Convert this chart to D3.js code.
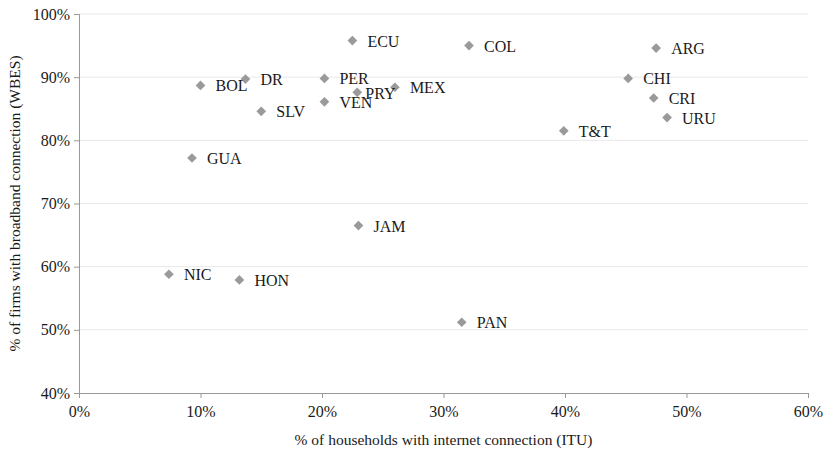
<!DOCTYPE html>
<html>
<head>
<meta charset="utf-8">
<script src="https://cdn.jsdelivr.net/npm/d3@7"></script>
<style>
  body { margin: 0; background: #fff; }
  text { font-family: "Liberation Serif", "Times New Roman", serif; fill: #1a1a1a; }
</style>
</head>
<body>
<div id="chart"></div>
<script>
// data (percent values)
var countries = ["ECU", "COL", "ARG", "BOL", "DR", "PER", "PRY", "MEX", "VEN", "SLV",
    "GUA", "CHI", "CRI", "URU", "T&T", "JAM", "NIC", "HON", "PAN"];
var households = [22.5, 32.1, 47.5, 10.0, 13.7, 20.2, 22.9, 26.0, 20.2, 15.0,
    9.3, 45.2, 47.3, 48.4, 39.9, 23.0, 7.4, 13.2, 31.5];
var firms = [95.8, 95.0, 94.6, 88.7, 89.7, 89.8, 87.6, 88.4, 86.1, 84.6,
    77.2, 89.8, 86.7, 83.6, 81.5, 66.5, 58.8, 57.9, 51.2];
var xTicks = [0, 10, 20, 30, 40, 50, 60];
var yTicks = [40, 50, 60, 70, 80, 90, 100];

var margin = { top: 14, right: 17, bottom: 63, left: 79 },
    width = 825 - margin.left - margin.right,
    height = 456 - margin.top - margin.bottom;

var svg = d3.select("#chart").append("svg")
    .attr("width", width + margin.left + margin.right)
    .attr("height", height + margin.top + margin.bottom)
    .append("g")
    .attr("transform", "translate(" + margin.left + "," + margin.top + ")");

var x = d3.scaleLinear().domain([0, 60]).range([0, width]);
var y = d3.scaleLinear().domain([40, 100]).range([height, 0]);

// gridlines
svg.append("g")
    .selectAll("line")
    .data(yTicks.slice(1))
    .enter().append("line")
    .attr("x1", 0).attr("x2", width)
    .attr("y1", function (d) { return y(d); })
    .attr("y2", function (d) { return y(d); })
    .attr("stroke", "#e8e8e8")
    .attr("stroke-width", 1);

var xAxis = svg.append("g")
    .attr("transform", "translate(0," + height + ")")
    .call(d3.axisBottom(x).tickValues(xTicks).tickSize(5).tickPadding(8)
        .tickFormat(function (d) { return d + "%"; }));

var yAxis = svg.append("g")
    .call(d3.axisLeft(y).tickValues(yTicks).tickSize(5).tickPadding(4)
        .tickFormat(function (d) { return d + "%"; }));

[xAxis, yAxis].forEach(function (a) {
    a.select(".domain").attr("stroke", "#999");
    a.selectAll(".tick line").attr("stroke", "#999");
    a.selectAll(".tick text")
        .attr("font-family", "Liberation Serif, serif")
        .style("font-size", "16px")
        .attr("fill", "#1a1a1a");
});

// points
var pts = countries.map(function (c, i) {
    return { name: c, hx: households[i], fy: firms[i] };
});

var diamond = d3.symbol().type(d3.symbolDiamond2).size(60);

svg.selectAll(".pt")
    .data(pts)
    .enter().append("path")
    .attr("class", "pt")
    .attr("d", diamond)
    .attr("transform", function (d) { return "translate(" + x(d.hx) + "," + y(d.fy) + ")"; })
    .attr("fill", "#9a9a9a");

svg.selectAll(".lbl")
    .data(pts)
    .enter().append("text")
    .attr("class", "lbl")
    .attr("x", function (d) { return x(d.hx) + (d.name === "PRY" ? 8 : 15); })
    .attr("y", function (d) { return y(d.fy) + (d.name === "PRY" ? 7 : 6); })
    .style("font-size", "16px")
    .text(function (d) { return d.name; });

// axis titles
svg.append("text")
    .attr("transform", "rotate(-90)")
    .attr("x", -height / 2)
    .attr("y", -margin.left + 20)
    .style("text-anchor", "middle")
    .style("font-size", "15.5px")
    .text("% of firms with broadband connection (WBES)");

svg.append("text")
    .attr("x", width / 2)
    .attr("y", height + 52)
    .style("text-anchor", "middle")
    .style("font-size", "15.5px")
    .text("% of households with internet connection (ITU)");
</script>
</body>
</html>
